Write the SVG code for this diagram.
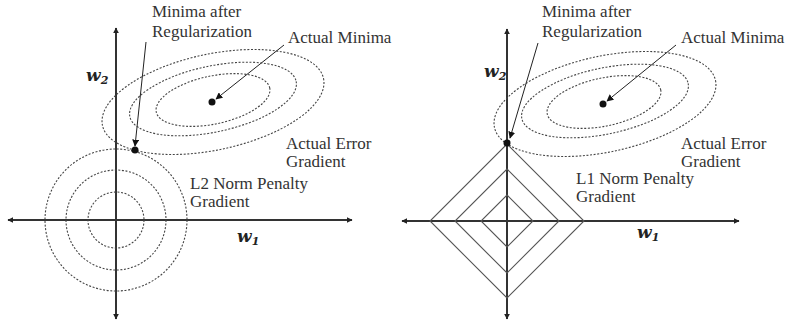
<svg xmlns="http://www.w3.org/2000/svg" width="788" height="327" viewBox="0 0 788 327">
<defs>
<marker id="ah" viewBox="0 0 10 10" refX="9" refY="5" markerWidth="6" markerHeight="6" orient="auto-start-reverse" markerUnits="userSpaceOnUse">
<path d="M0,0 L10,5 L0,10 z" fill="#222"/>
</marker>
<marker id="ps" viewBox="0 0 10 10" refX="9" refY="5" markerWidth="7" markerHeight="7" orient="auto" markerUnits="userSpaceOnUse">
<path d="M0,0 L10,5 L0,10 z" fill="#111"/>
</marker>
</defs>
<style>
.ax{stroke:#333;stroke-width:2;fill:none}
.dash{stroke:#444;stroke-width:1.1;fill:none;stroke-dasharray:2 1.6}
.sol{stroke:#555;stroke-width:1.1;fill:none}
.ptr{stroke:#222;stroke-width:1;fill:none}
.t{font-family:"Liberation Serif","DejaVu Serif",serif;font-size:17px;fill:#333}
.w{font-family:"DejaVu Serif","Liberation Serif",serif;font-size:17px;font-weight:bold;font-style:italic;fill:#222}
.sub{font-size:11px}
.dot{fill:#111}
</style>
<rect width="788" height="327" fill="#fff"/>

<g id="connectors">
<line class="ax" x1="116" y1="319" x2="116" y2="28" marker-end="url(#ah)" marker-start="url(#ah)"/>
<line class="ax" x1="8" y1="220" x2="352" y2="220" marker-end="url(#ah)" marker-start="url(#ah)"/>
<line class="ax" x1="507" y1="319" x2="507" y2="29" marker-end="url(#ah)" marker-start="url(#ah)"/>
<line class="ax" x1="402" y1="221" x2="739" y2="221" marker-end="url(#ah)" marker-start="url(#ah)"/>
<line class="ptr" x1="284" y1="45" x2="216" y2="99" marker-end="url(#ps)"/>
<line class="ptr" x1="146" y1="42" x2="135" y2="146" marker-end="url(#ps)"/>
<line class="ptr" x1="676" y1="45" x2="607" y2="101" marker-end="url(#ps)"/>
<line class="ptr" x1="538" y1="43" x2="510" y2="138" marker-end="url(#ps)"/>
</g>

<g id="error-contours-left">
<ellipse class="dash" cx="213" cy="102" rx="113" ry="48" transform="rotate(-12 213 102)"/>
<ellipse class="dash" cx="213" cy="99" rx="85" ry="33" transform="rotate(-12 213 99)"/>
<ellipse class="dash" cx="213" cy="100" rx="58" ry="24" transform="rotate(-12 213 100)"/>
</g>
<g id="l2-penalty">
<circle class="dash" cx="116" cy="220" r="71"/>
<circle class="dash" cx="116" cy="220" r="50"/>
<circle class="dash" cx="116" cy="220" r="28"/>
</g>
<g id="points-left">
<circle class="dot" cx="212" cy="102" r="3.5"/>
<circle class="dot" cx="135" cy="150" r="3.5"/>
</g>
<g id="labels-left">
<text class="t" x="152" y="17">Minima after</text>
<text class="t" x="152" y="37">Regularization</text>
<text class="t" x="288" y="43">Actual Minima</text>
<text class="t" x="286" y="149">Actual Error</text>
<text class="t" x="286" y="167">Gradient</text>
<text class="t" x="190" y="189">L2 Norm Penalty</text>
<text class="t" x="190" y="207">Gradient</text>
<text class="w" x="86" y="81">w<tspan class="sub" dy="3">2</tspan></text>
<text class="w" x="237" y="242">w<tspan class="sub" dy="3">1</tspan></text>
</g>

<g id="error-contours-right">
<ellipse class="dash" cx="605" cy="104" rx="113" ry="48" transform="rotate(-12 605 104)"/>
<ellipse class="dash" cx="605" cy="101" rx="85" ry="33" transform="rotate(-12 605 101)"/>
<ellipse class="dash" cx="604" cy="102" rx="58" ry="24" transform="rotate(-12 604 102)"/>
</g>
<g id="l1-penalty">
<polygon class="sol" points="507,144 584,221 507,298 430,221"/>
<polygon class="sol" points="507,169 559,221 507,273 455,221"/>
<polygon class="sol" points="507,195 533,221 507,247 481,221"/>
</g>
<g id="points-right">
<circle class="dot" cx="603" cy="104" r="3.5"/>
<circle class="dot" cx="507" cy="143" r="3.5"/>
</g>
<g id="labels-right">
<text class="t" x="542" y="17">Minima after</text>
<text class="t" x="542" y="37">Regularization</text>
<text class="t" x="681" y="43">Actual Minima</text>
<text class="t" x="681" y="149">Actual Error</text>
<text class="t" x="681" y="167">Gradient</text>
<text class="t" x="576" y="184">L1 Norm Penalty</text>
<text class="t" x="576" y="202">Gradient</text>
<text class="w" x="484" y="77">w<tspan class="sub" dy="3">2</tspan></text>
<text class="w" x="637" y="238">w<tspan class="sub" dy="3">1</tspan></text>
</g>
</svg>
